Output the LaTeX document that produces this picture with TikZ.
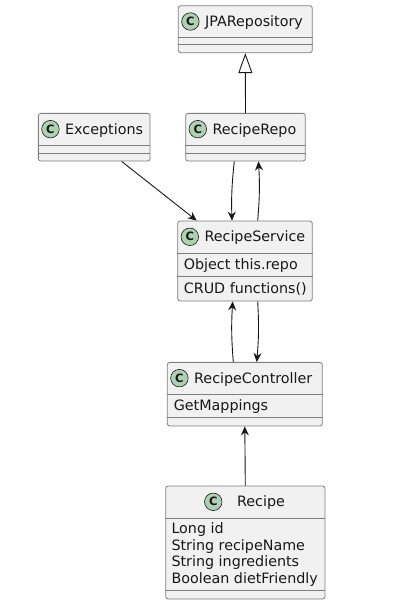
\documentclass[tikz,border=0pt]{standalone}
\usepackage{fontspec}
\setmainfont{DejaVu Sans}
\usetikzlibrary{arrows.meta,positioning,calc}
\definecolor{ink}{HTML}{181818}
\definecolor{edge}{HTML}{7E7E7E}
\definecolor{boxfill}{HTML}{F1F1F1}
\definecolor{badgefill}{HTML}{ADD1B2}
\tikzset{
  every picture/.style={color=ink, line width=0.5pt, font=\fontsize{14.3}{16.4}\selectfont},
  cls/.style={draw=edge, fill=boxfill, rounded corners=2.5pt, inner sep=0pt, line width=0.8pt},
  badge/.style={circle, draw=ink, fill=badgefill, minimum size=17.5pt, inner sep=0pt, line width=0.6pt,
    font=\fontsize{11.5}{11.5}\selectfont\bfseries},
  ttl/.style={anchor=base west, inner sep=0pt},
  fld/.style={anchor=base west, inner sep=0pt},
  sep/.style={draw=edge, line width=0.8pt},
  flow/.style={-{Stealth[length=9pt,width=8pt,inset=3pt]}, line width=0.9pt},
  inherit/.style={-{Triangle[open,length=20pt,width=14pt]}, line width=0.9pt},
}

\begin{document}
\begin{tikzpicture}[x=1pt, y=-1pt]
  \useasboundingbox (0,0) rectangle (403,611);
  % class boxes
  \node[cls, minimum width=134, minimum height=47] (jpa) at (245.3,29.2) {};
  \node[cls, minimum width=111.7, minimum height=47.7] (exc) at (94.2,137.2) {};
  \node[cls, minimum width=119.6, minimum height=47.7] (repo) at (245.5,137.2) {};
  \node[cls, minimum width=134.6, minimum height=80] (svc) at (245,261) {};
  \node[cls, minimum width=155, minimum height=63.7] (ctl) at (244.8,394.2) {};
  \node[cls, minimum width=159.3, minimum height=113] (rec) at (245.3,542.5) {};
  % compartment lines
  \foreach \b/\d in {jpa/31.6, jpa/39.3, exc/32.4, exc/40, repo/32.4, repo/40,
                     svc/32.3, svc/56, ctl/32, ctl/55.7, rec/32.3, rec/105}
    \draw[sep] ([yshift=-\d pt]\b.north west) -- ([yshift=-\d pt]\b.north east);
  % headers
  \foreach \b/\t in {jpa/JPARepository, exc/Exceptions, repo/RecipeRepo,
                     svc/RecipeService, ctl/RecipeController} {
    \node[badge] (\b C) at ($(\b.north west)+(12.5,16.2)$) {C};
    \node[ttl] (\b T) at ($(\b C.center)+(14.5,5)$) {\t};
  }
  \node[badge] (recC) at ($(rec.north west)+(48,16.2)$) {C};
  \node[ttl] (recT) at ($(recC.center)+(23.6,5)$) {Recipe};
  % fields and methods
  \node[fld] (svcF) at ($(svc.north west)+(6.3,49)$) {Object this.repo};
  \node[fld] (svcM) at ($(svc.north west)+(6.3,73)$) {CRUD functions()};
  \node[fld] (ctlF) at ($(ctl.north west)+(6.7,48.7)$) {GetMappings};
  \foreach \t [count=\i] in {Long id, String recipeName, String ingredients, Boolean dietFriendly}
    \node[fld] (recF\i) at ($(rec.north west)+(6,48.3+16.4*\i-16.4)$) {\t};
  % relations
  \draw[inherit] (repo.north) -- (jpa.south);
  \draw[flow] ([xshift=27.5pt]exc.south) -- ([xshift=-48.3pt]svc.north);
  \draw[flow] ([xshift=-11.2pt]repo.south) to[bend right=4] ([xshift=-13pt]svc.north);
  \draw[flow] ([xshift=12.7pt]svc.north) to[bend right=4] ([xshift=13pt]repo.south);
  \draw[flow] ([xshift=-11.5pt]ctl.north) to[bend left=4] ([xshift=-12.3pt]svc.south);
  \draw[flow] ([xshift=12.7pt]svc.south) to[bend left=4] ([xshift=11.9pt]ctl.north);
  \draw[flow] (rec.north) -- (ctl.south);
\end{tikzpicture}
\end{document}
